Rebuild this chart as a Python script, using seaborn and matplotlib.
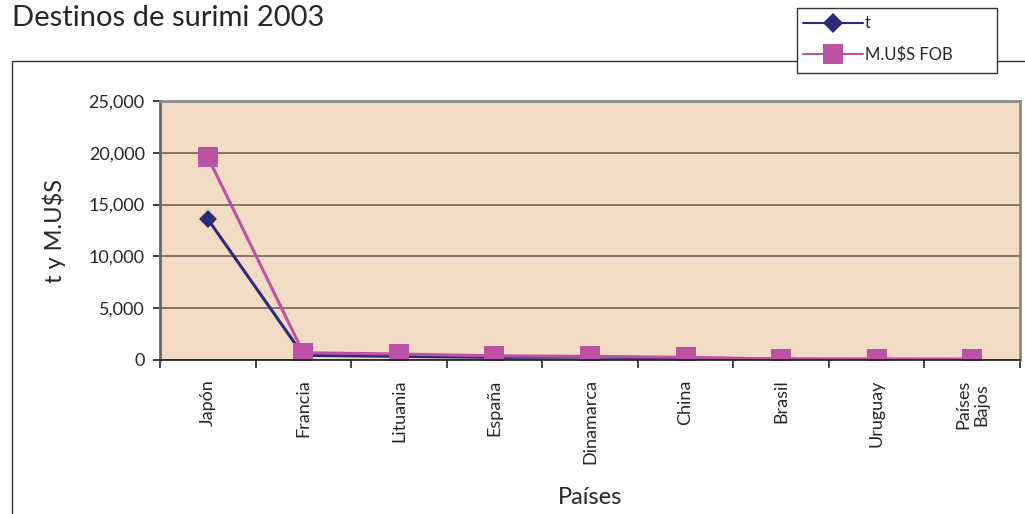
import matplotlib.pyplot as plt
import pandas as pd
import seaborn as sns
from matplotlib.lines import Line2D
from matplotlib.patches import Rectangle
from matplotlib.ticker import FuncFormatter

paises = ["Japón", "Francia", "Lituania", "España", "Dinamarca",
          "China", "Brasil", "Uruguay", "Países\nBajos"]
toneladas = [13600, 450, 350, 250, 280, 200, 80, 70, 60]
musd_fob = [19600, 700, 580, 400, 350, 260, 90, 80, 70]

df = pd.DataFrame({"pais": paises, "t": toneladas, "M.U$S FOB": musd_fob})
long = df.melt(id_vars="pais", var_name="serie", value_name="valor")

sns.set_theme(style="white")
plt.rcParams["font.family"] = ["Lato", "DejaVu Sans"]

W, H = 1025, 514
fig = plt.figure(figsize=(W / 100, H / 100), dpi=100)
ax = fig.add_axes([160 / W, 1 - 360 / H, 860 / W, 259 / H])

# outer chart frame
fig.patches.append(Rectangle((12 / W, -0.01), 1.05, 1 - 61 / H + 0.01,
                             transform=fig.transFigure, fill=False,
                             edgecolor="#333333", linewidth=1, zorder=1))

palette = {"t": "#2B2B7A", "M.U$S FOB": "#BC52A3"}
markers = {"t": "D", "M.U$S FOB": "s"}
sns.lineplot(data=long, x="pais", y="valor", hue="serie", style="serie",
             palette=palette, markers=markers, dashes=False, markersize=15,
             linewidth=2.2, markeredgewidth=0, ax=ax, sort=False, legend=False)
for line in ax.lines:
    if line.get_marker() == "D":
        line.set_markersize(9)

ax.set_facecolor("#F2DBC4")
ax.set_xlim(-0.5, len(paises) - 0.5)
ax.set_ylim(0, 25000)
ax.set_yticks(range(0, 25001, 5000))
ax.yaxis.set_major_formatter(FuncFormatter(lambda y, _: f"{int(y):,}"))
ax.grid(axis="y", color="#6E6258", linewidth=1.2)
ax.set_axisbelow(True)
for side in ["top", "right"]:
    ax.spines[side].set_color("#888888")
    ax.spines[side].set_linewidth(2)
ax.spines["left"].set_color("#666666")
ax.spines["left"].set_linewidth(2)
ax.spines["bottom"].set_color("#222222")

ax.set_xticks(range(len(paises)))
ax.set_xticklabels(paises, rotation=90, va="top", fontsize=13, linespacing=1.2)
ax.set_xticks([i - 0.5 for i in range(len(paises) + 1)], minor=True)
ax.tick_params(axis="x", which="major", length=0, pad=14)
ax.tick_params(axis="x", which="minor", length=6, direction="out",
               color="#222222", width=1.2, bottom=True)
ax.tick_params(axis="y", labelsize=13, length=5, direction="out",
               color="#222222", left=True, pad=6)
ax.set_xlabel("Países", fontsize=17, labelpad=16)
ax.set_ylabel("t y M.U$S", fontsize=17, labelpad=16)

fig.text(12 / W, 1 - 18 / H, "Destinos de surimi 2003", fontsize=21,
         va="center", ha="left")

# legend box drawn as a plain rectangle, legend entries inside it
fig.patches.append(Rectangle((797 / W, 1 - 73 / H), 200 / W, 65 / H,
                             transform=fig.transFigure, facecolor="white",
                             edgecolor="#333333", linewidth=1, zorder=3))
handles = [
    Line2D([], [], color=palette["t"], marker="D", markersize=10, linewidth=1.5,
           markeredgewidth=0, label="t"),
    Line2D([], [], color=palette["M.U$S FOB"], marker="s", markersize=15,
           linewidth=1.5, markeredgewidth=0, label="M.U$S FOB"),
]
leg = fig.legend(handles=handles, loc="upper left",
                 bbox_to_anchor=(800 / W, 1 - 12 / H), fontsize=12,
                 frameon=False, handlelength=3.6, borderpad=0.2,
                 labelspacing=0.9, handletextpad=0.1, borderaxespad=0)
leg.set_zorder(4)

fig.savefig("out.png", dpi=100)
